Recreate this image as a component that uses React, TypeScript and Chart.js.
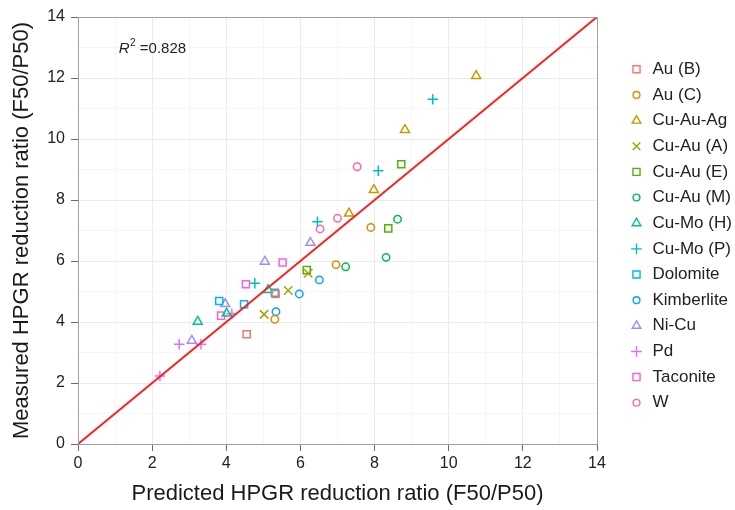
import React, { useEffect, useRef } from 'react';
import { Chart, registerables } from 'chart.js';
import { drawPoint } from 'chart.js/helpers';

Chart.register(...registerables);

const FONT = '"Liberation Sans", Arial, Helvetica, sans-serif';

// Ore groups, their colours and marker shapes
const groupNames = [
  'Au (B)', 'Au (C)', 'Cu-Au-Ag', 'Cu-Au (A)', 'Cu-Au (E)', 'Cu-Au (M)', 'Cu-Mo (H)',
  'Cu-Mo (P)', 'Dolomite', 'Kimberlite', 'Ni-Cu', 'Pd', 'Taconite', 'W',
];
const groupColors = [
  '#F8766D', '#E38900', '#C49A00', '#99A800', '#53B400', '#00BC56', '#00C094',
  '#00BFC4', '#00B6EB', '#06A4FF', '#A58AFF', '#DF70F8', '#FB61D7', '#FF66A8',
];
const groupShapes = [
  'rect', 'circle', 'triangle', 'crossRot', 'rect', 'circle', 'triangle',
  'cross', 'rect', 'circle', 'triangle', 'cross', 'rect', 'circle',
];

// [predicted, measured] reduction ratios per group
const auB = [[4.55, 3.6], [5.33, 4.92]];
const auC = [[5.31, 4.09], [6.96, 5.88], [7.9, 7.1]];
const cuAuAg = [[7.31, 7.56], [7.98, 8.33], [8.82, 10.3], [10.74, 12.07]];
const cuAuA = [[5.02, 4.25], [5.67, 5.03], [6.21, 5.6]];
const cuAuE = [[6.17, 5.7], [8.37, 7.07], [8.72, 9.17]];
const cuAuM = [[7.22, 5.81], [8.31, 6.12], [8.62, 7.37]];
const cuMoH = [[3.23, 4.01], [4.01, 4.28], [5.13, 5.05]];
const cuMoP = [[4.77, 5.27], [6.46, 7.29], [8.1, 8.96], [9.57, 11.3]];
const dolomite = [[3.81, 4.69], [4.48, 4.58], [5.31, 4.96]];
const kimberlite = [[5.34, 4.34], [5.97, 4.92], [6.51, 5.38]];
const niCu = [[3.07, 3.39], [3.97, 4.59], [5.04, 5.98], [6.27, 6.6]];
const pd = [[2.21, 2.23], [2.73, 3.27], [3.32, 3.27], [4.15, 4.27]];
const taconite = [[3.86, 4.21], [4.53, 5.24], [5.52, 5.95]];
const w = [[6.53, 7.05], [7.0, 7.4], [7.53, 9.09]];

const groupData = [
  auB, auC, cuAuAg, cuAuA, cuAuE, cuAuM, cuMoH, cuMoP, dolomite, kimberlite, niCu, pd, taconite, w,
];

// 1:1 line
const identityLine = [[0, 0], [14, 14]];
const axisMin = 0;
const axisMax = 14;
const rSquared = '0.828';
const rSquaredAt = [1.1, 12.95];

const plotRadius: Record<string, number> = {
  rect: 5, circle: 3.7, triangle: 5.2, cross: 5.2, crossRot: 6,
};
const legendRadius: Record<string, number> = {
  rect: 5, circle: 3.4, triangle: 5, cross: 5.4, crossRot: 5.4,
};

const isMajor = (v: number) => Math.round(v) % 2 === 0;

const panelBorder = {
  id: 'panelBorder',
  afterDatasetsDraw(chart: any) {
    const { ctx, chartArea: a } = chart;
    ctx.save();
    ctx.strokeStyle = '#a0a0a0';
    ctx.lineWidth = 1;
    ctx.strokeRect(Math.round(a.left) + 0.5, Math.round(a.top) + 0.5,
      Math.round(a.right - a.left), Math.round(a.bottom - a.top));
    ctx.restore();
  },
};

const rSquaredLabel = {
  id: 'rSquaredLabel',
  afterDraw(chart: any) {
    const { ctx } = chart;
    const x = chart.scales.x.getPixelForValue(rSquaredAt[0]);
    const y = chart.scales.y.getPixelForValue(rSquaredAt[1]);
    ctx.save();
    ctx.fillStyle = '#222';
    ctx.textBaseline = 'middle';
    ctx.textAlign = 'left';
    ctx.font = `italic 15px ${FONT}`;
    ctx.fillText('R', x, y);
    let cx = x + ctx.measureText('R').width + 0.5;
    ctx.font = `10px ${FONT}`;
    ctx.fillText('2', cx, y - 6);
    cx += ctx.measureText('2').width;
    ctx.font = `15px ${FONT}`;
    ctx.fillText(' =' + rSquared, cx, y);
    ctx.restore();
  },
};

const sideLegend = {
  id: 'sideLegend',
  afterDraw(chart: any) {
    const { ctx, chartArea: a } = chart;
    const step = 25.65;
    const markerX = a.right + 39.5;
    const textX = a.right + 55.5;
    const y0 = (a.top + a.bottom) / 2 + 5.5 - step * (groupNames.length - 1) / 2;
    ctx.save();
    groupNames.forEach((name, i) => {
      const y = y0 + i * step;
      ctx.strokeStyle = groupColors[i];
      ctx.fillStyle = 'rgba(0,0,0,0)';
      ctx.lineWidth = 1.4;
      drawPoint(ctx, {
        pointStyle: groupShapes[i] as any,
        radius: legendRadius[groupShapes[i]],
        rotation: 0,
        borderWidth: 1.4,
      } as any, markerX, y);
      ctx.fillStyle = '#222';
      ctx.font = `17px ${FONT}`;
      ctx.textBaseline = 'middle';
      ctx.textAlign = 'left';
      ctx.fillText(name, textX, y);
    });
    ctx.restore();
  },
};

function axisOptions(title: string, isX: boolean) {
  return {
    type: 'linear' as const,
    min: axisMin,
    max: axisMax,
    ticks: {
      stepSize: 1,
      autoSkip: false,
      maxRotation: 0,
      padding: isX ? 3 : 6,
      color: '#222',
      font: { family: FONT, size: 16 },
      callback: (v: any) => (isMajor(Number(v)) ? String(v) : ''),
    },
    grid: {
      color: (c: any) => (isMajor(c.tick.value) ? '#ebebeb' : '#f6f6f6'),
      lineWidth: 1,
      drawTicks: true,
      tickLength: 7,
      tickWidth: 1,
      tickColor: (c: any) => (isMajor(c.tick.value) ? '#6a6a6a' : 'rgba(0,0,0,0)'),
    },
    border: { display: false },
    title: {
      display: true,
      text: title,
      color: '#1a1a1a',
      font: { family: FONT, size: 22 },
      padding: isX ? { top: 0, bottom: 3 } : { top: 9, bottom: 0 },
    },
    afterFit: (s: any) => {
      if (isX) s.height = 66;
      else s.width = 78;
    },
  };
}

export default function App() {
  const canvasRef = useRef<HTMLCanvasElement>(null);

  useEffect(() => {
    if (!canvasRef.current) return;
    const datasets: any[] = groupNames.map((name, i) => ({
      label: name,
      data: groupData[i].map(([x, y]) => ({ x, y })),
      pointStyle: groupShapes[i],
      pointRadius: plotRadius[groupShapes[i]],
      pointHoverRadius: plotRadius[groupShapes[i]],
      borderColor: groupColors[i],
      pointBorderColor: groupColors[i],
      backgroundColor: 'rgba(0,0,0,0)',
      pointBackgroundColor: 'rgba(0,0,0,0)',
      pointBorderWidth: 1.5,
      showLine: false,
    }));
    datasets.push({
      label: '1:1',
      data: identityLine.map(([x, y]) => ({ x, y })),
      showLine: true,
      borderColor: '#ff1f1f',
      borderWidth: 2,
      pointRadius: 0,
      order: -1,
    });

    const chart = new Chart(canvasRef.current, {
      type: 'scatter',
      data: { datasets },
      options: {
        animation: false,
        responsive: true,
        maintainAspectRatio: false,
        devicePixelRatio: 1,
        layout: { padding: { top: 17, right: 138, bottom: 0, left: 0 } },
        plugins: {
          legend: { display: false },
          tooltip: { enabled: false },
        },
        scales: {
          x: axisOptions('Predicted HPGR reduction ratio (F50/P50)', true) as any,
          y: axisOptions('Measured HPGR reduction ratio (F50/P50)', false) as any,
        },
      },
      plugins: [panelBorder, rSquaredLabel, sideLegend],
    });
    return () => chart.destroy();
  }, []);

  return (
    <div style={{ position: 'absolute', left: 0, top: 0, width: 735, height: 510, background: '#fff' }}>
      <canvas ref={canvasRef} />
    </div>
  );
}
